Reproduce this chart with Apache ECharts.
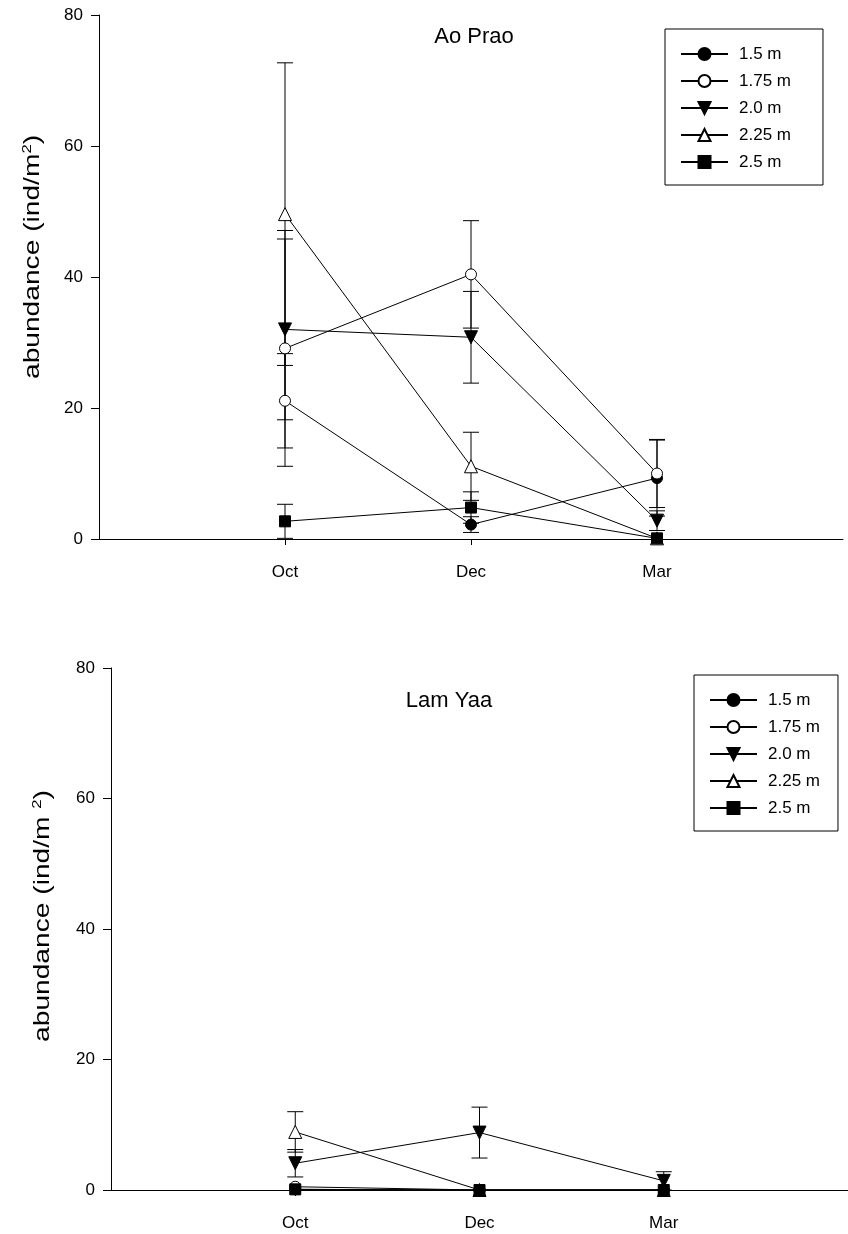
<!DOCTYPE html>
<html>
<head>
<meta charset="utf-8">
<script src="https://cdn.jsdelivr.net/npm/echarts@6/dist/echarts.min.js"></script>
<style>
html,body{margin:0;padding:0;background:#fff;}
#c{width:848px;height:1234px;}
</style>
</head>
<body>
<div id="c"></div>
<script>
// ---- data ----
const categories = ['Oct', 'Dec', 'Mar'];
const seriesNames = ['1.5 m', '1.75 m', '2.0 m', '2.25 m', '2.5 m'];
const yTicks = [0, 20, 40, 60, 80];

// Ao Prao means and error (SE)
const ao_15 = [21.1, 2.2, 9.3];
const ao_175 = [29.1, 40.4, 10.0];
const ao_20 = [32.0, 30.8, 2.8];
const ao_225 = [49.6, 11.1, 0.1];
const ao_25 = [2.7, 4.8, 0.1];
const aoErr_15 = [7.2, 1.2, 5.8];
const aoErr_175 = [18.0, 8.2, 5.2];
const aoErr_20 = [13.8, 7.0, 1.5];
const aoErr_225 = [23.1, 5.2, 0];
const aoErr_25 = [2.6, 2.4, 0];

// Lam Yaa means and error (SE)
const lam_15 = [0.1, 0.0, 0.0];
const lam_175 = [0.5, 0.0, 0.0];
const lam_20 = [4.1, 8.8, 1.4];
const lam_225 = [8.9, 0.0, 0.0];
const lam_25 = [0.1, 0.0, 0.0];
const lamErr_15 = [0, 0, 0];
const lamErr_175 = [0, 0, 0];
const lamErr_20 = [2.1, 3.9, 1.4];
const lamErr_225 = [3.1, 0, 0];
const lamErr_25 = [0, 0, 0];

// ---- styles ----
const FONT = '"Liberation Sans", Arial, sans-serif';
const markers = [
  {symbol: 'circle', rot: 0, filled: true, size: 11},
  {symbol: 'circle', rot: 0, filled: false, size: 11},
  {symbol: 'triangle', rot: 180, filled: true, size: 13},
  {symbol: 'triangle', rot: 0, filled: false, size: 13},
  {symbol: 'rect', rot: 0, filled: true, size: 11}
];

const aoVals = [ao_15, ao_175, ao_20, ao_225, ao_25];
const aoErrs = [aoErr_15, aoErr_175, aoErr_20, aoErr_225, aoErr_25];
const lamVals = [lam_15, lam_175, lam_20, lam_225, lam_25];
const lamErrs = [lamErr_15, lamErr_175, lamErr_20, lamErr_225, lamErr_25];

function lineSeries(gi, vals, openPoints) {
  return vals.map((arr, si) => {
    const m = markers[si];
    return {
      type: 'line', name: seriesNames[si],
      xAxisIndex: gi, yAxisIndex: gi,
      symbol: m.symbol, symbolRotate: m.rot, symbolSize: m.size,
      showSymbol: true, animation: false, z: 3 + si,
      lineStyle: {color: '#000', width: 1},
      itemStyle: {color: m.filled ? '#000' : '#fff', borderColor: '#000', borderWidth: 1},
      emphasis: {disabled: true},
      data: arr.map((v, i) => {
        const d = {value: [i + 1, v]};
        if (openPoints && openPoints[si] === i) d.itemStyle = {color: '#fff', borderColor: '#000', borderWidth: 1};
        return d;
      })
    };
  });
}

function errSeries(gi, vals, errs) {
  const data = [];
  vals.forEach((arr, si) => arr.forEach((v, i) => data.push([i + 1, v, errs[si][i]])));
  return {
    type: 'custom', xAxisIndex: gi, yAxisIndex: gi, z: 2, animation: false, silent: true,
    data: data,
    renderItem: function (params, api) {
      const x = api.value(0), m = api.value(1), e = api.value(2);
      if (!e) return null;
      const t = api.coord([x, m + e]);
      const b = api.coord([x, m - e]);
      const c = 8;
      const st = {stroke: '#000', lineWidth: 1, fill: null};
      return {type: 'group', children: [
        {type: 'line', shape: {x1: t[0], y1: t[1], x2: b[0], y2: b[1]}, style: st},
        {type: 'line', shape: {x1: t[0] - c, y1: t[1], x2: t[0] + c, y2: t[1]}, style: st},
        {type: 'line', shape: {x1: b[0] - c, y1: b[1], x2: b[0] + c, y2: b[1]}, style: st}
      ]};
    }
  };
}

function xAx(gi) {
  return {
    type: 'value', gridIndex: gi, min: 0, max: 4, interval: 1,
    splitLine: {show: false},
    axisLine: {show: true, onZero: false, lineStyle: {color: '#000', width: 1}},
    axisTick: {show: true, length: 6, lineStyle: {color: '#000'}, customValues: [1, 2, 3]},
    axisLabel: {customValues: [1, 2, 3], formatter: v => categories[v - 1] || '', color: '#000', fontFamily: FONT, fontSize: 17, margin: 25}
  };
}
function yAx(gi) {
  return {
    type: 'value', gridIndex: gi, min: yTicks[0], max: yTicks[yTicks.length - 1], interval: 20,
    splitLine: {show: false},
    axisLine: {show: true, lineStyle: {color: '#000', width: 1}},
    axisTick: {show: true, length: 8, lineStyle: {color: '#000'}},
    axisLabel: {color: '#000', fontFamily: FONT, fontSize: 17, margin: 16}
  };
}

function legend(left, top, padRight) {
  return {
    left: left, top: top, orient: 'vertical',
    data: seriesNames,
    itemWidth: 47, itemHeight: 15, itemGap: 9,
    padding: [16, padRight, 14, 15],
    borderColor: '#000', borderWidth: 1, backgroundColor: '#fff',
    selectedMode: false,
    textStyle: {color: '#000', fontFamily: FONT, fontSize: 17, lineHeight: 18, padding: [0, 0, 0, 6]}
  };
}

const labelRich = {
  n: {fontFamily: FONT, fontSize: 22, fill: '#000'},
  sup: {fontFamily: FONT, fontSize: 13, fill: '#000', verticalAlign: 'top', padding: [0, 0, 12, 0]}
};
function yLabel(x, y, text) {
  return {
    type: 'text', x: x, y: y, rotation: Math.PI / 2, scaleX: 1.28, scaleY: 1,
    style: {text: text, fill: '#000', font: '22px ' + FONT, align: 'center', verticalAlign: 'middle', rich: labelRich}
  };
}

const chart = echarts.init(document.getElementById('c'), null, {renderer: 'canvas'});
chart.setOption({
  backgroundColor: '#fff',
  animation: false,
  grid: [
    {left: 99, right: 5, top: 15, height: 524, containLabel: false},
    {left: 111, right: -6, top: 668, height: 522, containLabel: false}
  ],
  xAxis: [xAx(0), xAx(1)],
  yAxis: [yAx(0), yAx(1)],
  legend: [legend(665, 29, 32), legend(694, 675, 18)],
  graphic: [
    {type: 'text', x: 474, y: 37, style: {text: 'Ao Prao', font: '22px ' + FONT, fill: '#000', align: 'center', verticalAlign: 'middle'}},
    {type: 'text', x: 449, y: 701, style: {text: 'Lam Yaa', font: '22px ' + FONT, fill: '#000', align: 'center', verticalAlign: 'middle'}},
    yLabel(33, 257, '{n|abundance (ind/m}{sup|2}{n|)}'),
    yLabel(43, 916, '{n|abundance (ind/m }{sup|2}{n|)}')
  ],
  series: [
    errSeries(0, aoVals, aoErrs),
    ...lineSeries(0, aoVals, {0: 0}),
    errSeries(1, lamVals, lamErrs),
    ...lineSeries(1, lamVals, null)
  ]
});
</script>
</body>
</html>
